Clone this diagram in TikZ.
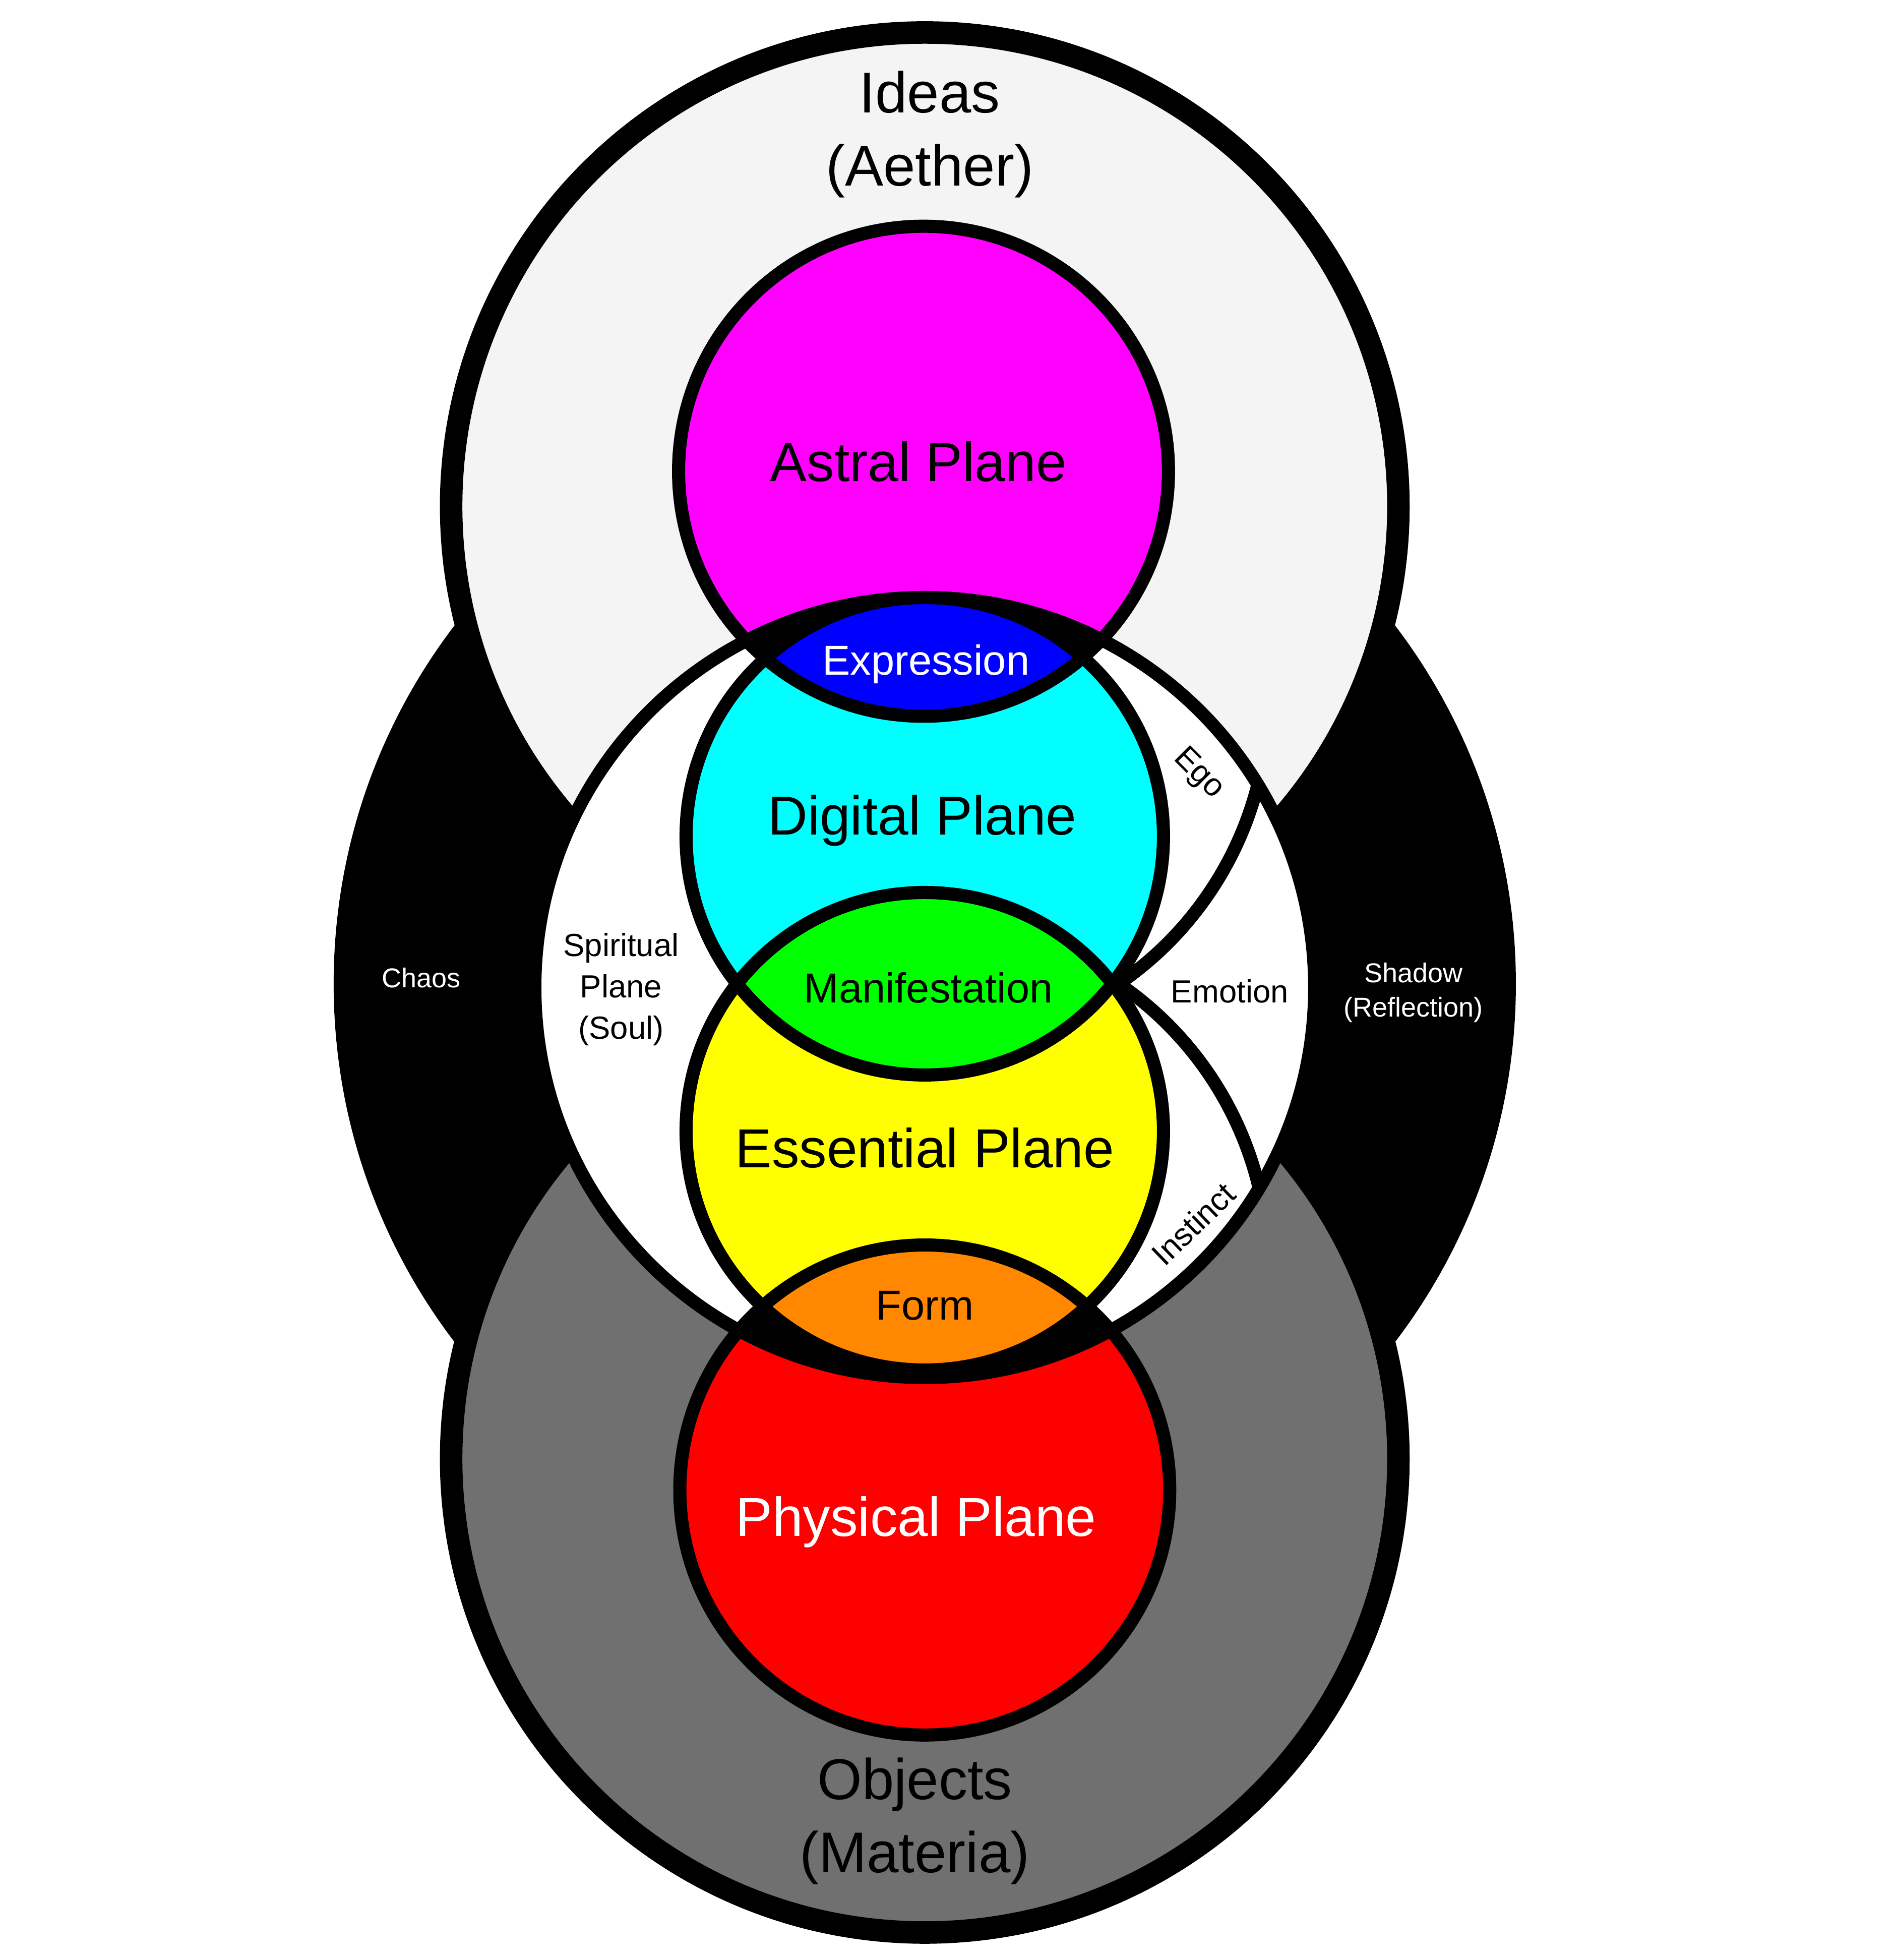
\documentclass[tikz,border=0pt]{standalone}
\usepackage{fontspec}
\setmainfont{Liberation Sans}
\definecolor{ideagray}{HTML}{F4F4F4}
\definecolor{objgray}{HTML}{707070}
\definecolor{astralmag}{HTML}{FF00FF}
\definecolor{exprblue}{HTML}{0000FF}
\definecolor{digicyan}{HTML}{00FFFF}
\definecolor{manigreen}{HTML}{00FF00}
\definecolor{essyellow}{HTML}{FFFF00}
\definecolor{formorange}{HTML}{FF8800}
\definecolor{physred}{HTML}{FF0000}

\begin{document}
\begin{tikzpicture}[x=1pt,y=1pt,
  rim/.style={line width=18pt},
  ring/.style={line width=10.5pt},
  bigtext/.style={font=\fontsize{44}{52}\selectfont,anchor=base},
  midtext/.style={font=\fontsize{33.5}{40}\selectfont,anchor=base},
  outertext/.style={font=\fontsize{46}{58.5}\selectfont,anchor=base,align=center},
  smalltext/.style={font=\fontsize{25.6}{33}\selectfont,anchor=base,align=center},
  tinytext/.style={font=\fontsize{21.8}{27.6}\selectfont,anchor=base,align=center,text=white}]
\useasboundingbox (-740,-781) rectangle (777,787);
\fill[white] (-740,-781) rectangle (777,787);
\coordinate (ideas) at (0,382); \coordinate (objects) at (0,-380);
\coordinate (soul) at (0,-3);
\coordinate (astral) at (-1,410); \coordinate (physical) at (0,-405);
\coordinate (digital) at (0,118); \coordinate (essential) at (0,-118);
\coordinate (egoc) at (0,227); \coordinate (instc) at (0,-227);
% outer shadow disc and the two big realms
\fill[black] (0,0) circle (473);
\filldraw[fill=ideagray,rim] (ideas) circle (379);
\filldraw[fill=objgray,rim] (objects) circle (379);
\fill[white] (soul) circle (312);
% ego / instinct arcs
\begin{scope}
\clip (soul) circle (312);
\draw[ring] (egoc) ++(-8:275) arc[start angle=-8,end angle=-60,radius=275];
\draw[ring] (instc) ++(8:275) arc[start angle=8,end angle=60,radius=275];
\end{scope}
% planes
\fill[astralmag] (astral) circle (196);
\fill[physred] (physical) circle (196);
\begin{scope}
\clip (soul) circle (312);
\fill[black] (astral) circle (196);
\fill[black] (physical) circle (196);
\end{scope}
\fill[digicyan] (digital) circle (191);
\fill[essyellow] (essential) circle (191);
\begin{scope}
\clip (astral) circle (196);
\fill[exprblue] (digital) circle (191);
\end{scope}
\begin{scope}
\clip (digital) circle (191);
\fill[manigreen] (essential) circle (191);
\end{scope}
\begin{scope}
\clip (essential) circle (191);
\fill[formorange] (physical) circle (196);
\end{scope}
\draw[ring] (soul) circle (312);
\foreach \c/\r in {astral/196,digital/191,essential/191,physical/196}
  \draw[ring] (\c) circle (\r);
% labels
\node[outertext] (ideaslbl) at (4,638.5) {Ideas\\(Aether)};
\node[outertext] (objlbl) at (-8,-711) {Objects\\(Materia)};
\node[bigtext] (astrallbl) at (-5,402) {Astral Plane};
\node[midtext,text=white] (exprlbl) at (1,247) {Expression};
\node[bigtext] (digilbl) at (-2,119) {Digital Plane};
\node[midtext] (manilbl) at (3,-15) {Manifestation};
\node[bigtext] (esslbl) at (0,-147) {Essential Plane};
\node[midtext] (formlbl) at (0,-269) {Form};
\node[bigtext,text=white] (physlbl) at (-7,-442) {Physical Plane};
\node[smalltext] (soullbl) at (-243,-44) {Spiritual\\Plane\\(Soul)};
\node[smalltext] (emolbl) at (244,-15) {Emotion};
\node[font=\fontsize{25.6}{33}\selectfont,rotate=-45] (egolbl) at (219,168) {Ego};
\node[font=\fontsize{25.6}{33}\selectfont,rotate=44] (instlbl) at (215,-192) {Instinct};
\node[tinytext] (chaoslbl) at (-403,-3) {Chaos};
\node[tinytext] (shadowlbl) at (391,-26.6) {Shadow\\(Reflection)};
\end{tikzpicture}
\end{document}
